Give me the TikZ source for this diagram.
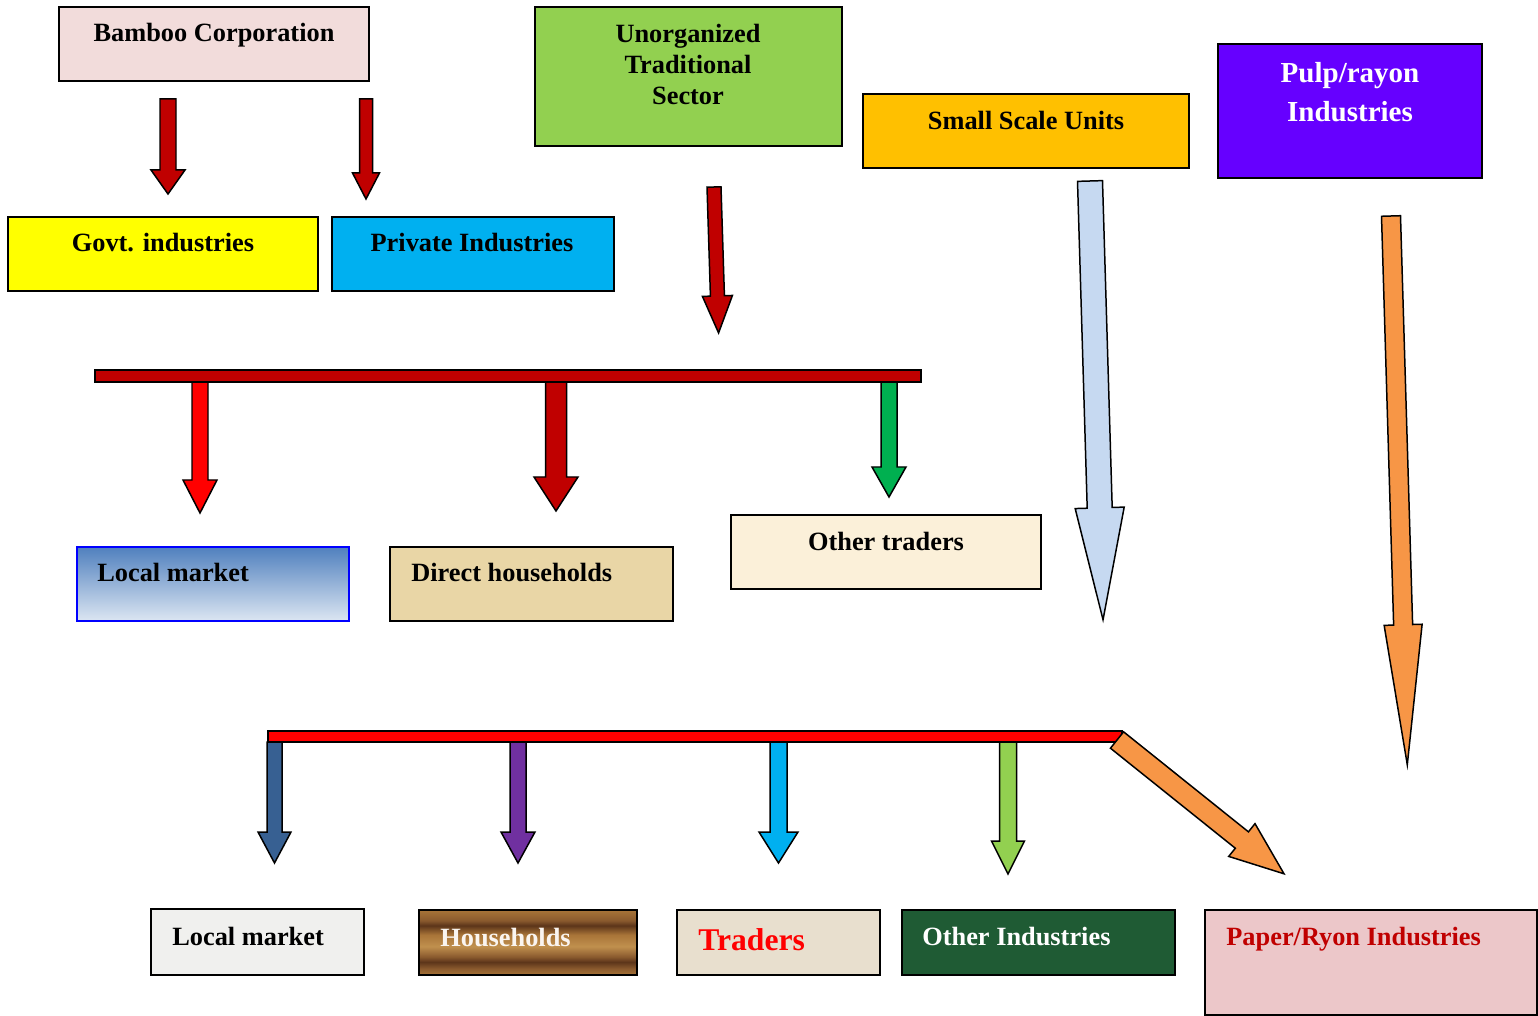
\documentclass[tikz,border=0pt]{standalone}
\usepackage{fontspec}
\setmainfont{Liberation Serif}
\usetikzlibrary{fit}

\definecolor{bbpink}{HTML}{F2DCDB}
\definecolor{bbyellow}{HTML}{FFFF00}
\definecolor{bbcyan}{HTML}{00B0F0}
\definecolor{bbgreen}{HTML}{92D050}
\definecolor{bbamber}{HTML}{FFC000}
\definecolor{bbviolet}{HTML}{6600FF}
\definecolor{bbred}{HTML}{C00000}
\definecolor{bbbright}{HTML}{FF0000}
\definecolor{bbemerald}{HTML}{00B050}
\definecolor{bbsky}{HTML}{C6D9F1}
\definecolor{bborange}{HTML}{F79646}
\definecolor{bbnavy}{HTML}{376092}
\definecolor{bbpurple}{HTML}{7030A0}
\definecolor{lmtop}{HTML}{5080BE}
\definecolor{lmbottom}{HTML}{DCE6F2}
\definecolor{papyrus}{HTML}{E9D6A6}
\definecolor{parchment}{HTML}{FBF0D9}
\definecolor{marble}{HTML}{F0F0EE}
\definecolor{linen}{HTML}{E8DFCE}
\definecolor{malachite}{HTML}{1F5B34}
\definecolor{rosepaper}{HTML}{ECC7C9}
\definecolor{wdA}{HTML}{A87438}
\definecolor{wdB}{HTML}{8A5A2E}
\definecolor{wdC}{HTML}{C0904E}
\definecolor{wdD}{HTML}{5C351A}

\pgfdeclareverticalshading{woodgrain}{100bp}{color(0bp)=(wdA); color(25bp)=(wdA);
  color(30bp)=(wdB); color(35bp)=(wdD); color(39bp)=(wdB); color(47bp)=(wdC);
  color(56bp)=(wdA); color(63bp)=(wdD); color(67bp)=(wdB); color(75bp)=(wdA); color(100bp)=(wdA)}

% block arrow: start, angle, length, shaft, head width, head length, colour
\newcommand{\blockarrow}[7]{%
  \draw[blockarr, fill=#7, shift={(#1)}, rotate=#2]
    (0,#4/2) -- (#3-#6,#4/2) -- (#3-#6,#5/2) -- (#3,0)
    -- (#3-#6,-#5/2) -- (#3-#6,-#4/2) -- (0,-#4/2) -- cycle;}

\begin{document}
\begin{tikzpicture}[
    x=0.02cm, y=-0.02cm,
    box/.style      = {draw=black,
                       line width=1.1pt,
                       inner sep=0pt},
    bar/.style      = {draw=black,
                       line width=0.9pt,
                       inner sep=0pt},
    blockarr/.style = {draw=black,
                       line width=0.85pt,
                       line join=miter},
    txt/.style      = {anchor=base,
                       inner sep=0pt,
                       font=\bfseries\fontsize{15}{18}\selectfont},
    ltxt/.style     = {txt,
                       anchor=base west}
]
\fill[white] (0,0) rectangle (1538,1016);
\useasboundingbox (0,0) rectangle (1538,1016);

% sources
\node (bamboo) [box, fill=bbpink, fit={(59,7) (369,81)}] {};
\node (bamboo-t) [txt] at (214,42) {Bamboo Corporation};
\node (govt) [box, fill=bbyellow, fit={(8,217) (318,291)}] {};
\node (govt-t) [txt] at (163,252) {Govt. industries};
\node (private) [box, fill=bbcyan, fit={(332,217) (614,291)}] {};
\node (private-t) [txt] at (472,252) {Private Industries};
\node (unorg) [box, fill=bbgreen, fit={(535,7) (842,146)}] {};
\node (unorg-t) [txt, anchor=north, align=center,
      font=\bfseries\fontsize{15}{17.7}\selectfont] at (688,24)
      {Unorganized\\Traditional\\Sector};
\node (small) [box, fill=bbamber, fit={(863,94) (1189,168)}] {};
\node (small-t) [txt] at (1026,130) {Small Scale Units};
\node (pulp) [box, fill=bbviolet, fit={(1218,44) (1482,178)}] {};
\node (pulp-t) [txt, anchor=north, align=center, text=white,
      font=\bfseries\fontsize{16.5}{22.1}\selectfont] at (1350,62)
      {Pulp/rayon\\Industries};

\coordinate (bamboo-a1) at (168,99);
\coordinate (bamboo-a2) at (366,99);
\blockarrow{bamboo-a1}{-90}{95}{16}{34}{24}{bbred}
\blockarrow{bamboo-a2}{-90}{100}{13}{27}{26}{bbred}
\coordinate (unorg-a) at (714,187);
\blockarrow{unorg-a}{-88.2}{146}{14}{30}{37}{bbred}
\coordinate (small-a) at (1090,181);
\blockarrow{small-a}{-88.3}{439}{25}{49}{112}{bbsky}
\coordinate (pulp-a) at (1391,216);
\blockarrow{pulp-a}{-88.3}{549}{19}{38}{140}{bborange}

% first distribution
\coordinate (up-a1) at (200,382);
\coordinate (up-a2) at (556,382);
\coordinate (up-a3) at (889,382);
\blockarrow{up-a1}{-90}{131}{16}{34}{33}{bbbright}
\blockarrow{up-a2}{-90}{129}{21}{44}{34}{bbred}
\blockarrow{up-a3}{-90}{115}{16}{34}{30}{bbemerald}
\node (bar-up) [bar, fill=bbred, fit={(95,370) (921,382)}] {};

\node (localup) [box, draw=blue, top color=lmtop, bottom color=lmbottom,
      fit={(77,547) (349,621)}] {};
\node (localup-t) [ltxt] at (97,582) {Local market};
\node (direct) [box, fill=papyrus, fit={(390,547) (673,621)}] {};
\node (direct-t) [ltxt] at (411,582) {Direct households};
\node (traders-up) [box, fill=parchment, fit={(731,515) (1041,589)}] {};
\node (traders-up-t) [txt] at (886,550) {Other traders};

% second distribution
\coordinate (dn-a1) at (274.5,742);
\coordinate (dn-a2) at (518,742);
\coordinate (dn-a3) at (778.5,742);
\coordinate (dn-a4) at (1008,742);
\coordinate (dn-a5) at (1117,740);
\blockarrow{dn-a1}{-90}{121}{15}{33}{31}{bbnavy}
\blockarrow{dn-a2}{-90}{121}{16}{34}{31}{bbpurple}
\blockarrow{dn-a3}{-90}{121}{17}{39}{31}{bbcyan}
\blockarrow{dn-a4}{-90}{132}{17}{33}{33}{bbgreen}
\node (bar-dn) [bar, fill=bbbright, fit={(268,731) (1122,742)}] {};
\blockarrow{dn-a5}{-38.7}{214}{21}{42}{54}{bborange}

\node (localdn) [box, fill=marble, fit={(151,909) (364,975)}] {};
\node (localdn-t) [ltxt] at (172,945) {Local market};
\node (house) [box, shading=woodgrain, fit={(419,910) (637,975)}] {};
\node (house-t) [ltxt, text=white!92!brown] at (440,946) {Households};
\node (traders) [box, fill=linen, fit={(677,910) (880,975)}] {};
\node (traders-t) [ltxt, text=bbbright,
      font=\bfseries\fontsize{18}{21}\selectfont] at (698,950) {Traders};
\node (otherind) [box, fill=malachite, fit={(902,910) (1175,975)}] {};
\node (otherind-t) [ltxt, text=white] at (922,945) {Other Industries};
\node (paper) [box, fill=rosepaper, fit={(1205,910) (1537,1015)}] {};
\node (paper-t) [ltxt, text=bbred] at (1226,945) {Paper/Ryon Industries};
\end{tikzpicture}
\end{document}
